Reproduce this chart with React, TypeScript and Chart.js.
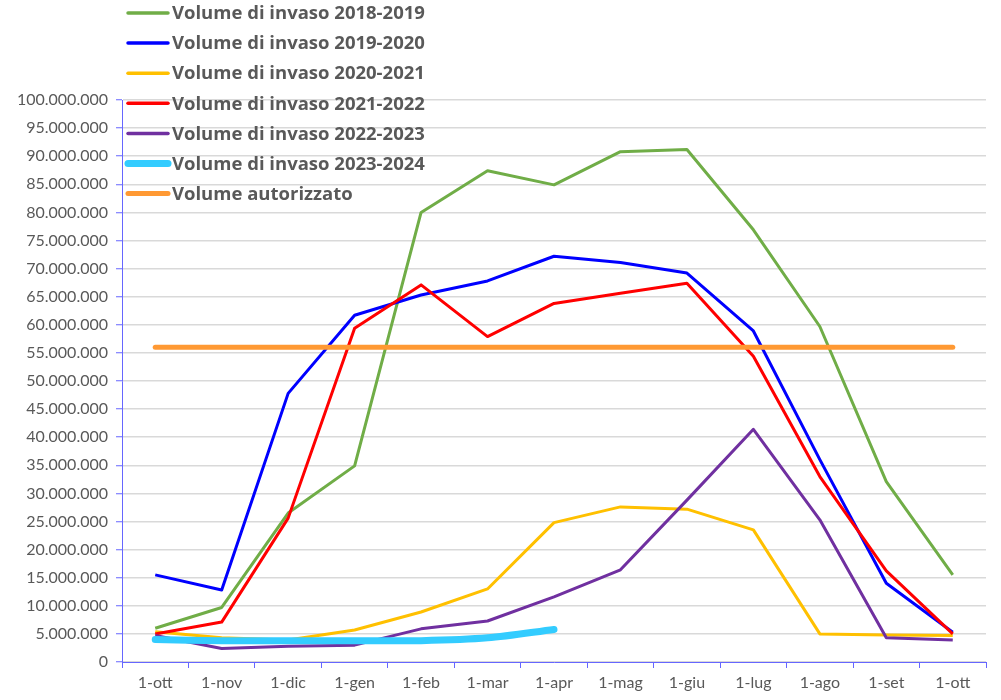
import React, { useEffect, useRef } from "react";
import { Chart, registerables } from "chart.js";

Chart.register(...registerables);

const categories = ["1-ott", "1-nov", "1-dic", "1-gen", "1-feb", "1-mar", "1-apr", "1-mag", "1-giu", "1-lug", "1-ago", "1-set", "1-ott"];

const vol2018 = [6.0, 9.7, 26.5, 34.9, 80.0, 87.4, 84.9, 90.8, 91.2, 76.9, 59.7, 32.1, 15.5];
const vol2019 = [15.5, 12.8, 47.8, 61.7, 65.3, 67.8, 72.2, 71.1, 69.2, 58.9, 36.0, 14.0, 5.3];
const vol2020 = [5.4, 4.3, 3.9, 5.7, 8.9, 13.0, 24.8, 27.6, 27.2, 23.5, 5.0, 4.8, 4.7];
const vol2021 = [5.0, 7.1, 25.6, 59.4, 67.1, 57.9, 63.8, 65.6, 67.4, 54.4, 33.0, 16.2, 5.0];
const vol2022 = [4.7, 2.4, 2.8, 3.0, 5.9, 7.3, 11.6, 16.4, 28.8, 41.4, 25.3, 4.3, 3.9];
const vol2023 = [4.0, 3.8, 3.8, 3.8, 3.8, 4.3, 5.8];
const volAutorizzato = [56.0, 56.0, 56.0, 56.0, 56.0, 56.0, 56.0, 56.0, 56.0, 56.0, 56.0, 56.0, 56.0];

const seriesLabels = [
  "Volume di invaso 2018-2019",
  "Volume di invaso 2019-2020",
  "Volume di invaso 2020-2021",
  "Volume di invaso 2021-2022",
  "Volume di invaso 2022-2023",
  "Volume di invaso 2023-2024",
  "Volume autorizzato",
];

const MILLION = 1000000;
const toUnits = (arr: number[]) => arr.map((v) => Math.round(v * MILLION));

const fmt = (v: number) => String(Math.round(v)).replace(/\B(?=(\d{3})+(?!\d))/g, ".");

const legendPlugin = {
  id: "customLegend",
  afterDraw(chart: any) {
    const ctx = chart.ctx;
    ctx.save();
    chart.data.datasets.forEach((ds: any, i: number) => {
      const y = 13 + i * 30.1;
      ctx.beginPath();
      ctx.strokeStyle = ds.borderColor;
      ctx.lineWidth = ds.legendLineWidth;
      ctx.lineCap = "round";
      ctx.moveTo(128, y);
      ctx.lineTo(168, y);
      ctx.stroke();
      ctx.fillStyle = "#595959";
      ctx.font = "bold 18.5px 'Open Sans'";
      ctx.textBaseline = "middle";
      ctx.textAlign = "left";
      ctx.fillText(ds.label, 172, y + 1);
    });
    ctx.restore();
  },
};

export default function App() {
  const canvasRef = useRef<HTMLCanvasElement | null>(null);

  useEffect(() => {
    document.body.style.margin = "0";
    const canvas = canvasRef.current;
    if (!canvas) return;
    const colors = ["#70ad47", "#0000ff", "#ffc000", "#ff0000", "#7030a0", "#33ccff", "#ff9933"];
    const widths = [3, 3, 3, 3, 3, 7, 5];
    const dataArrs = [vol2018, vol2019, vol2020, vol2021, vol2022, vol2023, volAutorizzato];
    const chart = new Chart(canvas, {
      type: "line",
      data: {
        labels: categories,
        datasets: dataArrs.map((arr, i) => ({
          label: seriesLabels[i],
          data: toUnits(arr),
          borderColor: colors[i],
          backgroundColor: colors[i],
          borderWidth: widths[i],
          legendLineWidth: i === 5 ? 7 : i === 6 ? 5 : 3.5,
          pointRadius: 0,
          pointHoverRadius: 0,
          fill: false,
          tension: i === 5 ? 0.3 : 0,
          borderCapStyle: i >= 5 ? "round" : "butt",
          borderJoinStyle: "round",
          order: 7 - i,
        })) as any,
      },
      options: {
        animation: false,
        responsive: false,
        maintainAspectRatio: false,
        layout: { padding: { top: 100, right: 15, left: 0, bottom: 0 } },
        plugins: {
          legend: { display: false },
          tooltip: { enabled: false },
          title: { display: false },
        },
        scales: {
          x: {
            type: "category",
            offset: true,
            grid: {
              offset: true,
              drawOnChartArea: false,
              drawTicks: true,
              tickLength: 6,
              tickColor: "#6666ff",
            },
            border: { display: true, color: "#6666ff", width: 1 },
            ticks: {
              color: "#595959",
              font: { family: "Lato", size: 16 },
              padding: 5,
              maxRotation: 0,
              autoSkip: false,
            },
            afterFit(scale: any) {
              scale.height = 38;
            },
          },
          y: {
            min: 0,
            max: 100000000,
            grid: {
              color: "#d9d9d9",
              lineWidth: 1.5,
              drawTicks: true,
              tickLength: 6,
              tickColor: "#6666ff",
              tickWidth: 1,
            },
            border: { display: true, color: "#6666ff", width: 1 },
            ticks: {
              stepSize: 5000000,
              color: "#595959",
              font: { family: "Lato", size: 16 },
              padding: 8,
              callback: (v: any) => fmt(Number(v)),
            },
            afterFit(scale: any) {
              scale.width = 122;
            },
          },
        },
      },
      plugins: [legendPlugin],
    });
    return () => chart.destroy();
  }, []);

  return (
    <div style={{ width: 1001, height: 700, background: "#ffffff" }}>
      <canvas ref={canvasRef} width={1001} height={700} style={{ display: "block" }} />
    </div>
  );
}
